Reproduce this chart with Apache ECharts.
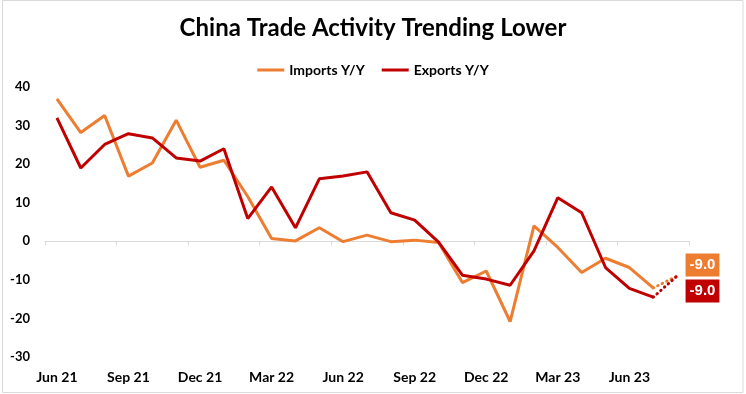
<!DOCTYPE html>
<html>
<head>
<meta charset="utf-8">
<script src="https://cdn.jsdelivr.net/npm/echarts@6/dist/echarts.min.js"></script>
<style>
html,body{margin:0;padding:0;background:#fff;}
#chart{width:746px;height:394px;}
</style>
</head>
<body>
<div id="chart"></div>
<script>
const categories = ['Jun 21','Jul 21','Aug 21','Sep 21','Oct 21','Nov 21','Dec 21','Jan 22','Feb 22','Mar 22','Apr 22','May 22','Jun 22','Jul 22','Aug 22','Sep 22','Oct 22','Nov 22','Dec 22','Jan 23','Feb 23','Mar 23','Apr 23','May 23','Jun 23','Jul 23','Aug 23'];
const imports = [36.9, 28.2, 32.6, 16.9, 20.3, 31.4, 19.2, 21.0, 11.6, 0.7, 0.1, 3.5, -0.1, 1.6, -0.1, 0.3, -0.3, -10.7, -7.7, -20.8, 4.0, -1.6, -8.1, -4.4, -6.8, -12.1];
const exportsYY = [32.0, 19.0, 25.1, 27.9, 26.8, 21.6, 20.8, 24.0, 5.9, 14.1, 3.5, 16.2, 16.9, 18.0, 7.4, 5.5, -0.2, -8.8, -9.8, -11.4, -2.5, 11.3, 7.4, -6.8, -12.2, -14.5];
const importsForecast = -9.0;
const exportsForecast = -9.0;
const yTicks = { min: -30, max: 40, interval: 10 };

const ORANGE = '#ED7D31';
const RED = '#C00000';
const FONT = 'Lato';

function dottedData(arr, fc) {
  const d = categories.map(() => null);
  d[arr.length - 1] = arr[arr.length - 1];
  d[arr.length] = fc;
  return d;
}

const chart = echarts.init(document.getElementById('chart'), null, { renderer: 'canvas' });

function forecastSeries(name, arr, fc, color, offsetY) {
  const d = dottedData(arr, fc).map((v, i) => {
    if (i === arr.length) {
      return {
        value: v,
        symbol: 'circle',
        symbolSize: 1,
        itemStyle: { color: 'rgba(0,0,0,0)', borderWidth: 0 },
        label: {
          show: true,
          position: 'right',
          distance: 8,
          offset: [0, offsetY],
          formatter: (p) => p.value.toFixed(1),
          color: '#fff',
          backgroundColor: color,
          fontFamily: 'Liberation Sans',
          fontWeight: 'bold',
          fontSize: 15,
          padding: [3, 4, 3, 4],
          lineHeight: 17
        }
      };
    }
    return { value: v, symbol: 'none' };
  });
  return {
    name: name + ' fc',
    type: 'line',
    data: d,
    xAxisIndex: 0,
    showSymbol: true,
    lineStyle: { color: color, width: 3, type: [0.5, 4.5], cap: 'round' },
    itemStyle: { color: color },
    connectNulls: false,
    z: 1,
    silent: true
  };
}

chart.setOption({
  animation: false,
  backgroundColor: '#fff',
  title: {
    text: 'China Trade Activity Trending Lower',
    left: 'center',
    top: 11,
    textStyle: { fontFamily: FONT, fontWeight: 'bold', fontSize: 24, color: '#000' }
  },
  legend: {
    data: ['Imports Y/Y', 'Exports Y/Y'],
    top: 58,
    left: 'center',
    icon: 'rect',
    itemWidth: 27,
    itemHeight: 3,
    itemGap: 17,
    textStyle: { fontFamily: FONT, fontWeight: 'bold', fontSize: 14, color: '#000' }
  },
  graphic: [{
    type: 'rect',
    shape: { x: 2.5, y: 0.5, width: 740.5, height: 392 },
    style: { fill: 'none', stroke: '#D9D9D9', lineWidth: 1 },
    silent: true
  }],
  grid: { left: 45, right: 57, top: 87, bottom: 37, containLabel: false },
  xAxis: [{
    type: 'category',
    data: categories,
    boundaryGap: true,
    position: 'bottom',
    axisLine: { show: false, onZero: false },
    axisTick: { show: false },
    axisLabel: {
      interval: 2,
      margin: 13,
      fontFamily: FONT,
      fontWeight: 'bold',
      fontSize: 14,
      color: '#000'
    },
    splitLine: { show: false }
  }, {
    type: 'category',
    data: categories,
    boundaryGap: true,
    position: 'bottom',
    axisLine: { show: true, onZero: true, lineStyle: { color: '#D9D9D9', width: 1 } },
    axisTick: { show: true, interval: 2, length: 4, lineStyle: { color: '#D9D9D9' } },
    axisLabel: { show: false },
    splitLine: { show: false }
  }],
  yAxis: {
    type: 'value',
    min: yTicks.min,
    max: yTicks.max,
    interval: yTicks.interval,
    axisLine: { show: false },
    axisTick: { show: false },
    splitLine: { show: false },
    axisLabel: {
      margin: 15,
      fontFamily: FONT,
      fontWeight: 'bold',
      fontSize: 13,
      color: '#000'
    }
  },
  series: [
    {
      name: 'Imports Y/Y',
      type: 'line',
      data: imports,
      xAxisIndex: 0,
      symbol: 'none',
      lineStyle: { color: ORANGE, width: 3 },
      itemStyle: { color: ORANGE },
      z: 2
    },
    {
      name: 'Exports Y/Y',
      type: 'line',
      data: exportsYY,
      xAxisIndex: 0,
      symbol: 'none',
      lineStyle: { color: RED, width: 3 },
      itemStyle: { color: RED },
      z: 3
    },
    forecastSeries('Imports Y/Y', imports, importsForecast, ORANGE, -11),
    forecastSeries('Exports Y/Y', exportsYY, exportsForecast, RED, 15)
  ]
});
</script>
</body>
</html>
